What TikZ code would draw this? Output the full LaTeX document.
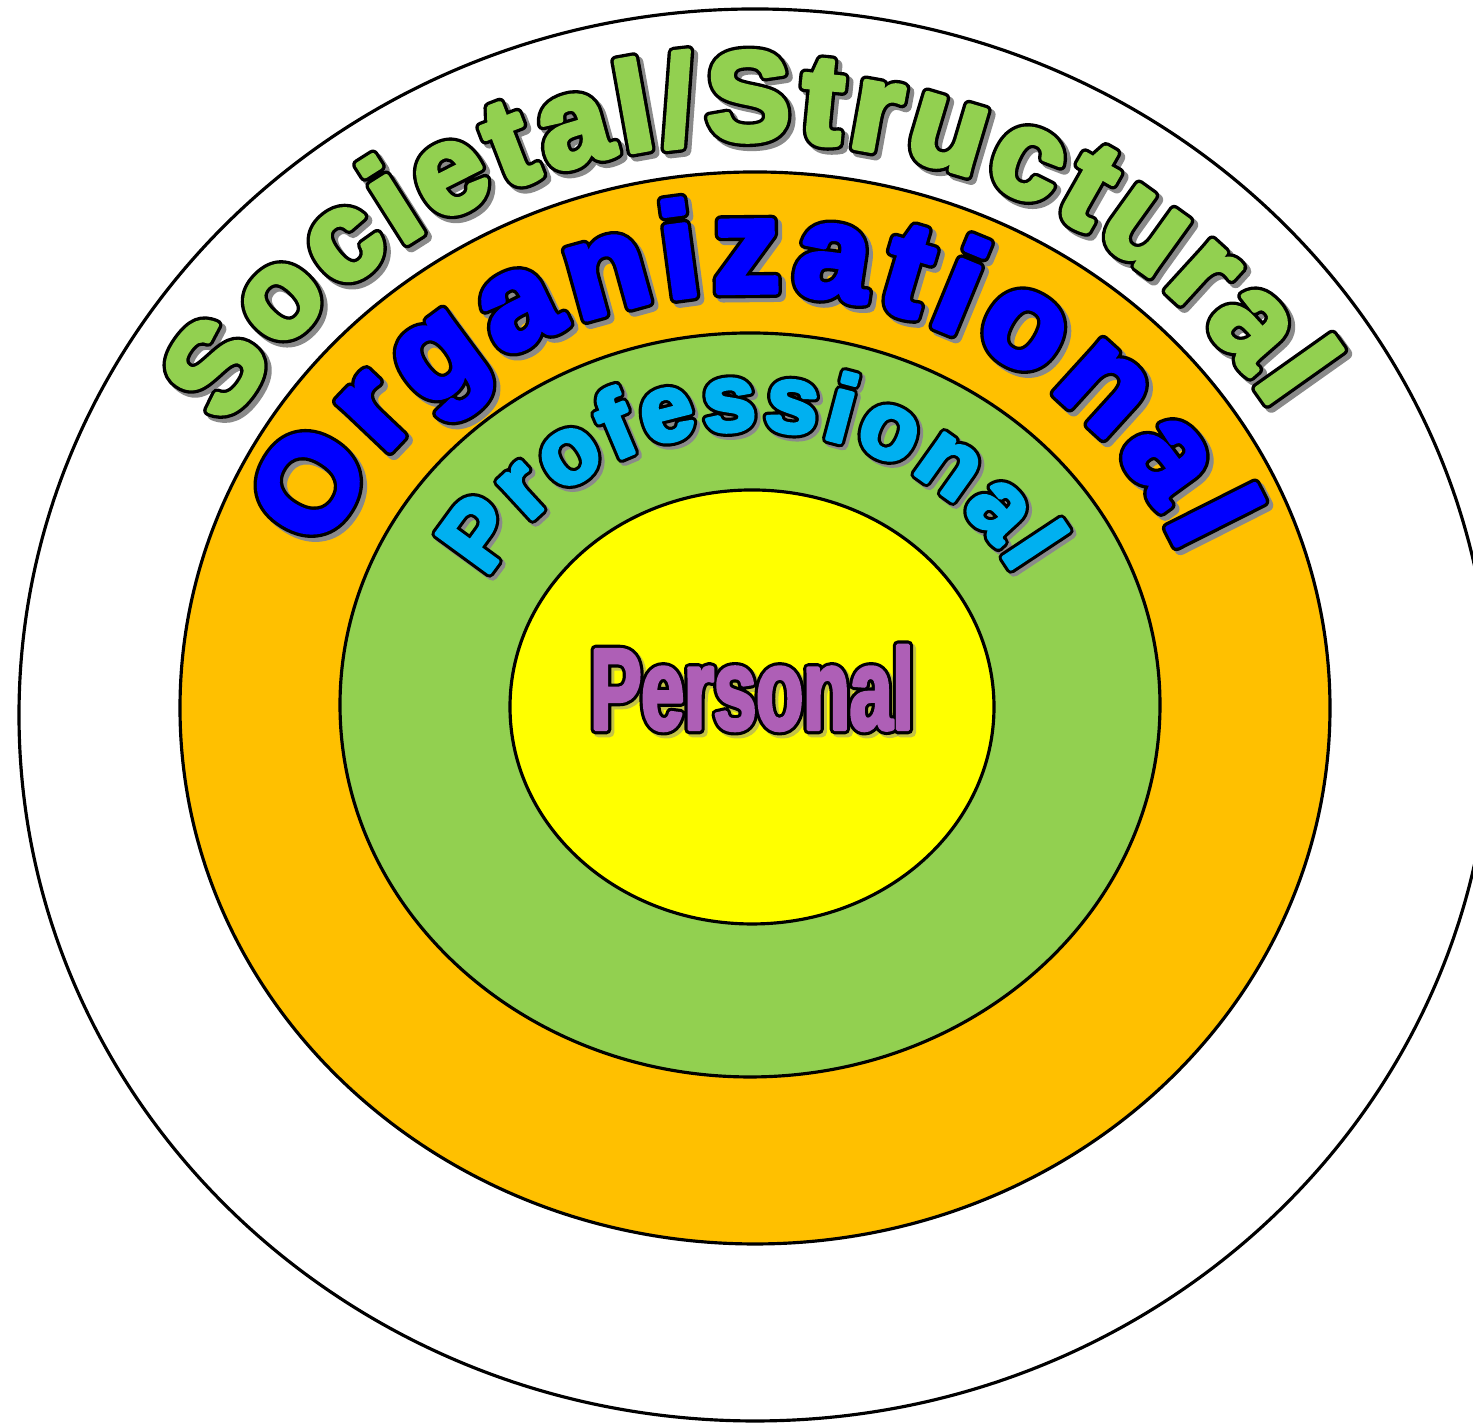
\documentclass[tikz,border=0pt]{standalone}
\usepackage{fontspec}
\usetikzlibrary{decorations.text}
\newfontfamily\ringfont{Liberation Sans}
\newfontfamily\centrefont{Liberation Sans}[FakeStretch=0.66]
\definecolor{ringorange}{HTML}{FFC000}
\definecolor{ringgreen}{HTML}{92D050}
\definecolor{ringyellow}{HTML}{FFFF00}
\definecolor{socgreen}{HTML}{92D050}
\definecolor{orgblue}{HTML}{0000FF}
\definecolor{profcyan}{HTML}{00B0F0}
\definecolor{perspurple}{HTML}{AE5FB6}
\definecolor{shadowgrey}{HTML}{8A8A8A}
% black rim / thickened fill for the letters
\newcommand\inkrim[1]{\special{pdf:literal direct 2 Tr 1 j 0 0 0 RG #1 w}}
\newcommand\inkfill[1]{\special{pdf:literal direct 2 Tr 1 j #1 w}}
\newcommand\socfont{\ringfont\bfseries\fontsize{36}{40}\selectfont}
\newcommand\orgfont{\ringfont\bfseries\fontsize{38}{42}\selectfont}
\newcommand\proffont{\ringfont\bfseries\fontsize{27}{30}\selectfont}
\newcommand\persfont{\centrefont\bfseries\fontsize{33}{36}\selectfont}
\tikzset{
  ring/.style={draw=black, line width=0.9pt},
  curved/.style={decorate, decoration={text along path, text align={fit to path}, text={#1}}},
  shade/.style={opacity=0.5},
}
\begin{document}
\begin{tikzpicture}[x=0.1mm, y=0.1mm]
\useasboundingbox (0,0) rectangle (1473,1426);
% rings
\draw[ring, fill=white] (755,711) ellipse [x radius=736, y radius=706];
\draw[ring, fill=ringorange] (755,718) ellipse [x radius=575, y radius=536];
\draw[ring, fill=ringgreen] (750,721) ellipse [x radius=410, y radius=372];
\draw[ring, fill=ringyellow] (752,719) ellipse [x radius=242, y radius=217];
% Societal/Structural
\path[shade, shift={(759,707)}, curved={|\socfont\color{shadowgrey}\inkfill{3.4}|Societal/Structural}]
  (150:610 and 575) arc[start angle=150, end angle=32, x radius=610, y radius=575];
\path[shift={(755,711)}, curved={|\socfont\color{black}\inkrim{3.4}|Societal/Structural}]
  (150:610 and 575) arc[start angle=150, end angle=32, x radius=610, y radius=575];
\path[shift={(755,711)}, curved={|\socfont\color{socgreen}\inkfill{1.5}|Societal/Structural}]
  (150:610 and 575) arc[start angle=150, end angle=32, x radius=610, y radius=575];
% Organizational
\path[shade, shift={(756,712)}, curved={|\orgfont\color{shadowgrey}\inkfill{3.6}|Organizational}]
  (158:462 and 418) arc[start angle=158, end angle=22, x radius=462, y radius=418];
\path[shift={(752,716)}, curved={|\orgfont\color{black}\inkrim{3.6}|Organizational}]
  (158:462 and 418) arc[start angle=158, end angle=22, x radius=462, y radius=418];
\path[shift={(752,716)}, curved={|\orgfont\color{orgblue}\inkfill{1.7}|Organizational}]
  (158:462 and 418) arc[start angle=158, end angle=22, x radius=462, y radius=418];
% Professional
\path[shade, shift={(755,713)}, curved={|\proffont\color{shadowgrey}\inkfill{3.0}|Professional}]
  (152:300 and 280) arc[start angle=152, end angle=29, x radius=300, y radius=280];
\path[shift={(752,716)}, curved={|\proffont\color{black}\inkrim{3.0}|Professional}]
  (152:300 and 280) arc[start angle=152, end angle=29, x radius=300, y radius=280];
\path[shift={(752,716)}, curved={|\proffont\color{profcyan}\inkfill{1.2}|Professional}]
  (152:300 and 280) arc[start angle=152, end angle=29, x radius=300, y radius=280];
% Personal
\node[shade, font=\persfont, text=shadowgrey] (persshadow) at (755,735) {\inkfill{2.8}Personal};
\node[font=\persfont, text=black] (persrim) at (752,738) {\inkrim{2.8}Personal};
\node[font=\persfont, text=perspurple] (personal) at (752,738) {\inkfill{1.0}Personal};
\end{tikzpicture}
\end{document}
